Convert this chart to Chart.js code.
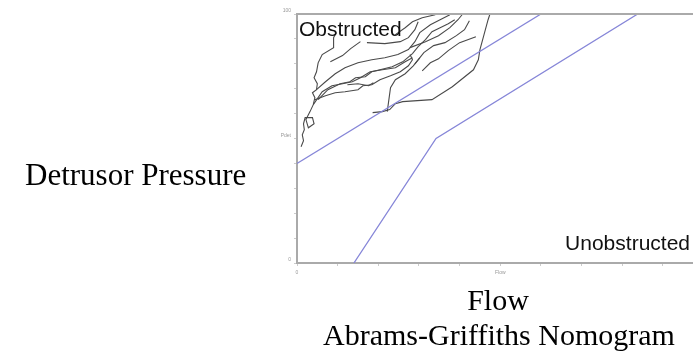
<!DOCTYPE html>
<html>
<head>
<meta charset="utf-8">
<script src="https://cdn.jsdelivr.net/npm/chart.js@4"></script>
<style>
  body { margin: 0; background: #fff; width: 693px; height: 354px; overflow: hidden; position: relative; }
  #chart { position: absolute; left: 0; top: 0; }
  .lbl { position: absolute; font-family: "Liberation Serif", "Times New Roman", serif; color: #000; white-space: nowrap; }
</style>
</head>
<body>
<canvas id="chart" width="693" height="290"></canvas>
<div class="lbl" style="left:25px; top:159px; font-size:31px; line-height:31px;">Detrusor Pressure</div>
<div class="lbl" style="left:300px; width:396px; text-align:center; top:285px; font-size:30px; line-height:30px;">Flow</div>
<div class="lbl" style="left:300px; width:398px; text-align:center; top:320px; font-size:30px; line-height:30px;">Abrams-Griffiths Nomogram</div>
<script>
// axis ranges (flow ml/s, pressure cmH2O)
const flowMax = 48.7;
const pdetMax = 100;
const xTickLabels = { 0: '0', 25: 'Flow' };
const yTickLabels = { 0: '0', 50: 'Pdet', 100: '100' };

// nomogram boundary lines [flow, pdet]
const obstructedLine = [[0, 40], [30, 100]];
const unobstructedLine = [[7, 0], [17.1, 50], [41.9, 100]];

// pressure-flow traces [flow, pdet]
const traceA = [[0.5,46.7],[0.8,49.1],[0.65,51.5],[0.9,53.5],[0.8,55.9],[1.0,58.4],[1.9,58.4],[2.1,55.9],[1.4,54.3],[1.1,57.6],[1.6,60.8],[2.0,63.6],[2.2,66.4],[1.9,68.4],[2.4,69.6],[2.5,72.0],[2.1,74.4],[2.4,76.8],[2.6,80.4],[3.1,83.7],[4.5,86.5],[4.5,90.5],[4.8,92.5]];
const traceB = [[2.4,69.6],[3.5,72.8],[4.7,76.0],[5.9,78.4],[7.5,80.4],[9.2,81.6],[10.8,82.4],[12.4,83.7],[13.7,85.7],[14.5,88.9],[15.1,92.5],[16.4,95.7],[17.6,97.7],[18.8,99.7]];
const traceC = [[2.6,65.6],[3.8,69.6],[5.3,72.0],[6.5,72.8],[7.2,74.4],[8.4,74.8],[9.2,76.8],[10.2,77.6],[11.7,78.8],[13.0,80.8],[14.2,84.1],[14.9,86.9],[15.8,89.7],[16.6,92.9],[17.6,94.5],[18.6,96.1],[19.4,97.7]];
const traceD = [[2.2,65.6],[3.5,67.2],[4.7,68.4],[5.9,68.8],[7.5,69.6],[8.1,71.2],[9.2,71.6],[10.2,73.6],[11.5,75.2],[12.7,76.8],[13.7,79.2],[14.2,81.6],[13.9,83.7]];
const traceE = [[9.3,60.4],[10.5,60.8],[11.4,61.6],[12.1,64.0],[13.0,64.8],[16.6,65.6],[19.1,70.8],[21.7,77.6],[22.3,81.6],[22.5,85.7],[23.0,91.7],[23.5,97.7],[23.7,99.7]];
const traceF = [[11.1,60.8],[11.3,65.6],[11.5,70.4],[12.1,73.6],[13.3,76.0],[14.3,79.2],[15.1,82.4]];
const traceG = [[6.2,71.6],[7.5,72.0],[8.8,71.2],[9.4,72.4]];
const traceH = [[2.0,63.6],[3.1,68.8],[4.3,71.2],[5.6,72.0],[6.8,72.8],[7.8,74.4],[9.0,76.8],[10.5,77.6],[12.1,78.4],[13.3,80.8],[14.2,82.4]];
const traceI = [[12.1,91.7],[13.3,94.5],[14.2,96.9],[15.4,98.5],[17.0,99.7]];
const traceJ = [[13.9,86.5],[15.8,88.9],[17.4,91.3],[18.8,94.5],[19.8,97.7],[20.3,99.7]];
const traceK = [[8.6,88.5],[10.8,88.1],[12.7,88.9],[13.7,90.5],[14.5,93.7],[14.9,96.9]];
const traceL = [[14.5,80.0],[15.6,84.5],[16.8,87.3],[18.2,88.5],[19.6,91.3],[20.6,93.7],[21.2,97.3]];
const traceM = [[4.1,80.8],[5.6,83.3],[6.6,86.1],[7.8,88.9]];
const traceN = [[15.4,77.2],[16.4,80.4],[17.4,82.0],[18.6,85.3],[20.0,88.5],[22.0,90.9]];

const traces = [traceA, traceB, traceC, traceD, traceE, traceF, traceG, traceH, traceI, traceJ, traceK, traceL, traceM, traceN];

const toPoints = arr => arr.map(p => ({ x: p[0], y: p[1] }));

const datasets = [
  { data: toPoints(obstructedLine), borderColor: '#8686d8', borderWidth: 1.3 },
  { data: toPoints(unobstructedLine), borderColor: '#8686d8', borderWidth: 1.3 }
];
traces.forEach(t => datasets.push({ data: toPoints(t), borderColor: '#4a4a4a', borderWidth: 1.1 }));
datasets.forEach(d => { d.showLine = true; d.pointRadius = 0; d.tension = 0; });

// top frame line plus the region labels
const framePlugin = {
  id: 'frame',
  afterDatasetsDraw(chart) {
    const { ctx, chartArea } = chart;
    ctx.save();
    ctx.strokeStyle = '#aaa';
    ctx.lineWidth = 2;
    ctx.beginPath();
    ctx.moveTo(chartArea.left - 1, chartArea.top);
    ctx.lineTo(chartArea.right, chartArea.top);
    ctx.stroke();

    ctx.fillStyle = '#111';
    ctx.font = '21px "Liberation Sans", Arial, sans-serif';
    ctx.textBaseline = 'alphabetic';
    ctx.textAlign = 'left';
    ctx.fillText('Obstructed', chartArea.left + 2, chartArea.top + 22);
    ctx.textAlign = 'right';
    ctx.fillText('Unobstructed', chartArea.right - 3, chartArea.bottom - 13);
    ctx.restore();
  }
};

new Chart(document.getElementById('chart'), {
  type: 'scatter',
  data: { datasets: datasets },
  plugins: [framePlugin],
  options: {
    responsive: false,
    animation: false,
    layout: { padding: { left: 267, top: 14, right: 0, bottom: 7 } },
    plugins: { legend: { display: false }, tooltip: { enabled: false } },
    scales: {
      x: {
        type: 'linear',
        min: 0,
        max: flowMax,
        afterFit: s => { s.height = 20; },
        afterBuildTicks: s => { s.ticks = s.ticks.filter(t => t.value % 5 === 0); },
        ticks: {
          stepSize: 5,
          autoSkip: false,
          maxRotation: 0,
          padding: 4,
          color: '#999',
          font: { size: 5 },
          callback: v => xTickLabels[v] || ''
        },
        border: { color: '#aaa', width: 2 },
        grid: { drawOnChartArea: false, tickLength: 3, color: '#ccc' }
      },
      y: {
        type: 'linear',
        min: 0,
        max: pdetMax,
        afterFit: s => { s.width = 30; },
        ticks: {
          stepSize: 10,
          autoSkip: false,
          padding: 3,
          labelOffset: -3,
          color: '#999',
          font: { size: 5 },
          callback: v => yTickLabels[v] || ''
        },
        border: { color: '#aaa', width: 2 },
        grid: { drawOnChartArea: false, tickLength: 3, color: '#ccc' }
      }
    }
  }
});
</script>
</body>
</html>
